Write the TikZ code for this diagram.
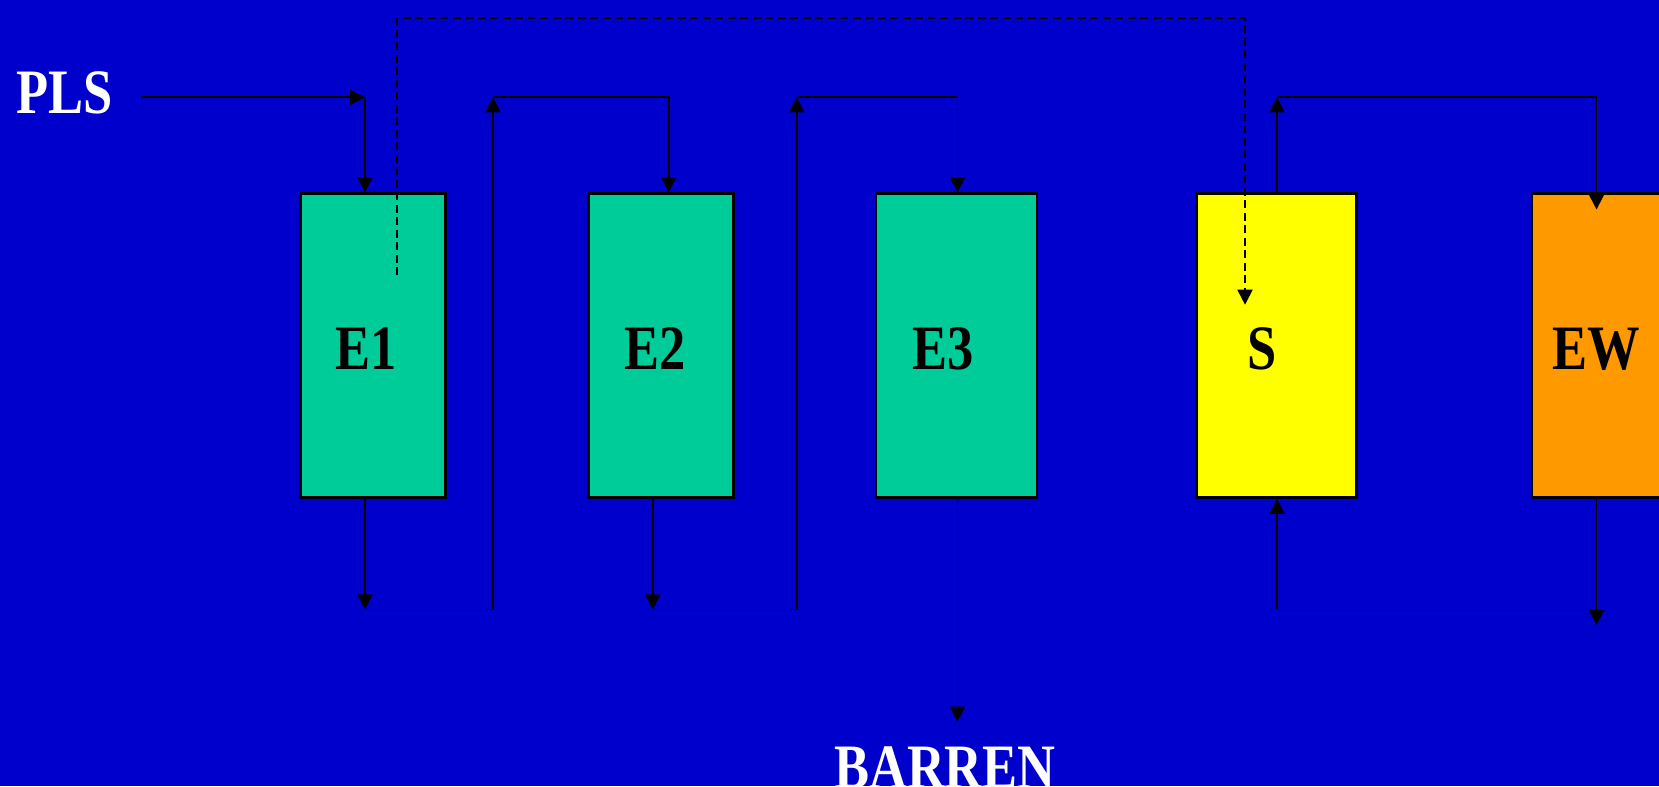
\documentclass[tikz,border=0pt]{standalone}
\usepackage{fontspec}
\setmainfont{Liberation Serif}
\usetikzlibrary{arrows.meta}
\definecolor{bgblue}{RGB}{0,0,204}
\definecolor{extgreen}{RGB}{0,204,153}
\definecolor{stripyellow}{RGB}{255,255,0}
\definecolor{eworange}{RGB}{255,153,0}
\tikzset{
  cell/.style={draw=black, line width=0.7pt, inner sep=0pt, minimum height=30.4mm},
  tag/.style={font=\bfseries\fontsize{18}{20}\selectfont, text=black, inner sep=0pt},
  streamlbl/.style={font=\bfseries\fontsize{18}{20}\selectfont, text=white, inner sep=0pt},
  tip/.style={-{Triangle[length=1.5mm,width=1.5mm]}},
  flow/.style={draw=black, line width=0.5pt, tip},
  organic/.style={draw=black, line width=0.5pt, dash pattern=on 0.8mm off 0.45mm}
}
\newcommand{\narrow}[1]{\scalebox{0.83}[1]{#1}}
\begin{document}
\begin{tikzpicture}[x=0.1mm,y=-0.1mm]
  % page and background
  \fill[bgblue] (0,0) rectangle (1659,786);
  \useasboundingbox (0,0) rectangle (1659,786);
  \clip (0,0) rectangle (1659,786);

  % process cells
  \node[cell, fill=extgreen, minimum width=14.5mm] (e1) at (373,345.5) {};
  \node[cell, fill=extgreen, minimum width=14.5mm] (e2) at (660.8,345.5) {};
  \node[cell, fill=extgreen, minimum width=16.1mm] (e3) at (956.4,345.5) {};
  \node[cell, fill=stripyellow, minimum width=16.0mm] (s) at (1276.5,345.5) {};
  \node[cell, fill=eworange, minimum width=16.8mm] (ew) at (1616,345.5) {};

  % cell labels
  \node[tag] (e1lbl) at (366,349) {\narrow{E1}};
  \node[tag] (e2lbl) at (655,349) {\narrow{E2}};
  \node[tag] (e3lbl) at (943,349) {\narrow{E3}};
  \node[tag] (slbl) at (1262,349) {\narrow{S}};
  \node[tag] (ewlbl) at (1596,349) {\narrow{EW}};

  % stream labels
  \node[streamlbl] (pls) at (64.5,93) {\narrow{PLS}};
  \node[streamlbl] (barren) at (945,768) {\narrow{BARREN}};

  % routing points
  \coordinate (plsin) at (140.7,97.3);
  \coordinate (c1) at (365,97.3);
  \coordinate (b1) at (365,609.4);
  \coordinate (b1r) at (493,609.4);
  \coordinate (t1) at (493,97.3);
  \coordinate (t1r) at (668.7,97.3);
  \coordinate (b2) at (652.8,609.4);
  \coordinate (b2r) at (796.7,609.4);
  \coordinate (t2) at (796.7,97.3);
  \coordinate (t2r) at (957.5,97.3);
  \coordinate (raff) at (957.5,721.6);
  \coordinate (ts) at (1277,97.3);
  \coordinate (tsr) at (1596.5,97.3);
  \coordinate (ewin) at (1596.5,209.5);
  \coordinate (ewout) at (1596.5,625);
  \coordinate (bew) at (1596.5,609.4);
  \coordinate (bs) at (1277,609.4);
  \coordinate (dstart) at (397,275);
  \coordinate (dtop) at (397,18);
  \coordinate (dtopr) at (1245,18);
  \coordinate (dend) at (1245,304.7);

  % feed to E1
  \draw[flow] (plsin) -- (c1);
  \draw[flow] (c1) -- (c1 |- e1.north);

  % E1 -> E2
  \draw[flow] (c1 |- e1.south) -- (b1);
  \draw[flow] (b1) -- (b1r) -- (t1);
  \draw[flow] (t1) -- (t1r) -- (t1r |- e2.north);

  % E2 -> E3
  \draw[flow] (b2 |- e2.south) -- (b2);
  \draw[flow] (b2) -- (b2r) -- (t2);
  \draw[flow] (t2) -- (t2r) -- (t2r |- e3.north);

  % raffinate
  \draw[flow] (raff |- e3.south) -- (raff);

  % strip <-> electrowinning loop
  \draw[flow] (ts |- s.north) -- (ts);
  \draw[flow] (ts) -- (tsr) -- (ewin);
  \draw[flow] (ewout |- ew.south) -- (ewout);
  \draw[flow] (bew) -- (bs) -- (bs |- s.south);

  % loaded organic (dashed)
  \draw[organic, tip] (dstart) -- (dtop) -- (dtopr) -- (dend);
\end{tikzpicture}
\end{document}
